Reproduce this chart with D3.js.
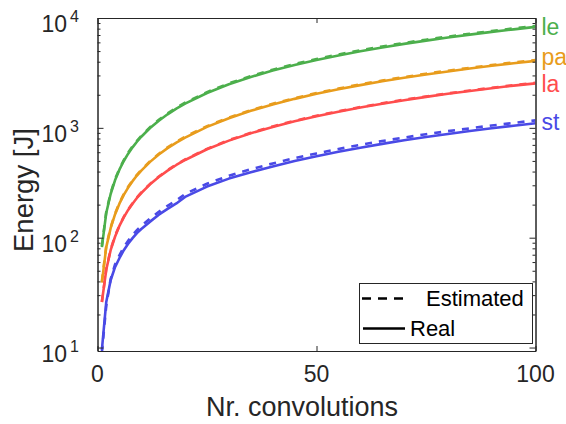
<!DOCTYPE html>
<html>
<head>
<meta charset="utf-8">
<script src="https://cdn.jsdelivr.net/npm/d3@7"></script>
<style>
  html, body { margin: 0; padding: 0; background: #fff; }
  svg { display: block; font-family: "Liberation Sans", Arial, Helvetica, sans-serif; }
</style>
</head>
<body>
<svg id="chart" width="566" height="424"></svg>
<script>
// Number of convolutions at which energy was sampled
const convolutions = [1,2,3,4,5,6,7,8,9,10,12,14,16,18,20,25,30,35,40,45,50,55,60,65,70,75,80,85,90,95,100];

// Energy [J] per network, measured (real) and predicted (estimated)
const leReal = [82,168,250,333,416,499,582,664,747,830,996,1162,1328,1494,1660,2075,2490,2905,3320,3735,4150,4565,4980,5395,5810,6225,6640,7055,7470,7885,8300];
const leEst  = [84,172,255,340,424,508,594,678,762,846,1015,1185,1355,1525,1692,2115,2540,2962,3385,3810,4232,4655,5078,5500,5925,6350,6770,7195,7620,8040,8460];
const paReal = [39,82,122,163,204,245,286,327,368,408,490,572,653,735,816,1020,1224,1428,1632,1836,2040,2244,2448,2652,2856,3060,3264,3468,3672,3876,4070];
const paEst  = [40,84,124,166,208,249,291,332,374,415,498,581,664,747,830,1036,1243,1450,1658,1865,2072,2280,2486,2695,2900,3108,3315,3522,3730,3938,4140];
const laReal = [26,51,77,102,128,153,179,204,230,255,306,357,408,459,510,638,765,893,1020,1148,1275,1403,1530,1658,1785,1913,2040,2168,2295,2423,2540];
const laEst  = [26,52,78,104,129,155,181,206,232,258,309,361,412,464,515,644,773,902,1030,1160,1288,1417,1545,1675,1803,1932,2060,2190,2318,2447,2570];
const stReal = [9.5,26,41,54,65,77,88,99,110,120,140,162,183,205,235,292,345,395,445,500,552,605,660,715,770,825,880,935,990,1045,1100];
const stEst  = [9,24,42,57,69,82,94,106,117,128,149,172,195,218,250,310,366,420,474,530,585,642,700,758,816,875,933,990,1050,1108,1170];

const seriesNames  = ["le", "pa", "la", "st"];
const seriesColors = ["#4caf4c", "#e89c1c", "#ff4d4d", "#4a4ae6"];
const realSeries = [leReal, paReal, laReal, stReal];
const estSeries  = [leEst, paEst, laEst, stEst];

const xTicks = [0, 50, 100];
const yDecades = [10, 100, 1000, 10000];
const yExponents = ["1", "2", "3", "4"];

const legendLabels = ["Estimated", "Real"];
const xTitle = "Nr. convolutions";
const yTitle = "Energy [J]";

const svg = d3.select("#chart");
const axisColor = "#262626";
const plot = { left: 97.5, right: 535.5, top: 18, bottom: 351 };

const x = d3.scaleLinear().domain([0, 100]).range([plot.left, plot.right]);
const y = d3.scaleLog().domain([9.3, 10000]).range([plot.bottom, plot.top]);

// Minor tick values on the log axis (2..9 within each decade)
const minorTicks = [];
[1, 10, 100, 1000].forEach(d => {
  for (let k = 2; k <= 9; k++) {
    const v = d * k;
    if (v >= 9.3 && v <= 10000) minorTicks.push(v);
  }
});

svg.append("rect").attr("width", 566).attr("height", 424).attr("fill", "#fff");

// Lines, clipped to the axes box
svg.append("clipPath").attr("id", "plotClip")
  .append("rect")
  .attr("x", plot.left).attr("y", plot.top)
  .attr("width", plot.right - plot.left).attr("height", plot.bottom - plot.top);

const line = d3.line().x((d, i) => x(convolutions[i])).y(d => y(d));
const lines = svg.append("g").attr("clip-path", "url(#plotClip)");
realSeries.forEach((s, i) => {
  lines.append("path").attr("d", line(s))
    .attr("fill", "none").attr("stroke", seriesColors[i])
    .attr("stroke-width", 2.6).attr("stroke-linejoin", "round");
  lines.append("path").attr("d", line(estSeries[i]))
    .attr("fill", "none").attr("stroke", seriesColors[i])
    .attr("stroke-width", 2.6).attr("stroke-dasharray", "7,7");
});

// Axes (ticks point inward, box on)
function styleAxis(g) {
  g.selectAll("path.domain").attr("stroke", axisColor).attr("stroke-width", 1);
  g.selectAll(".tick line").attr("stroke", axisColor).attr("stroke-width", 1);
  g.selectAll(".tick text").remove();
}

svg.append("g").attr("transform", `translate(0,${plot.bottom})`)
  .call(d3.axisBottom(x).tickValues(xTicks).tickSize(-5).tickSizeOuter(0)).call(styleAxis);
svg.append("g").attr("transform", `translate(0,${plot.top})`)
  .call(d3.axisTop(x).tickValues(xTicks).tickSize(-5).tickSizeOuter(0)).call(styleAxis);

svg.append("g").attr("transform", `translate(${plot.left},0)`)
  .call(d3.axisLeft(y).tickValues(yDecades).tickSize(-6).tickSizeOuter(0)).call(styleAxis);
svg.append("g").attr("transform", `translate(${plot.left},0)`)
  .call(d3.axisLeft(y).tickValues(minorTicks).tickSize(-3).tickSizeOuter(0)).call(styleAxis);
svg.append("g").attr("transform", `translate(${plot.right},0)`)
  .call(d3.axisRight(y).tickValues(yDecades).tickSize(-6).tickSizeOuter(0)).call(styleAxis);
svg.append("g").attr("transform", `translate(${plot.right},0)`)
  .call(d3.axisRight(y).tickValues(minorTicks).tickSize(-3).tickSizeOuter(0)).call(styleAxis);

// Tick labels
svg.append("g").selectAll("text").data(xTicks).join("text")
  .attr("x", d => x(d)).attr("y", plot.bottom + 31)
  .attr("text-anchor", "middle").attr("font-size", 23).attr("fill", axisColor)
  .text(d => d);

const yl = svg.append("g").selectAll("text").data(yDecades).join("text")
  .attr("x", 79).attr("y", d => y(d) + 14)
  .attr("text-anchor", "end").attr("font-size", 23).attr("fill", axisColor);
yl.append("tspan").text("10");
yl.append("tspan").attr("font-size", 16).attr("dx", 3).attr("dy", -10)
  .text((d, i) => yExponents[i]);

// Axis titles
svg.append("text").attr("x", 302).attr("y", 416)
  .attr("text-anchor", "middle").attr("font-size", 27).attr("fill", axisColor)
  .text(xTitle);
svg.append("text").attr("transform", "translate(33,252) rotate(-90)")
  .attr("text-anchor", "start").attr("font-size", 27.5).attr("fill", axisColor)
  .text(yTitle);

// Series names at the right edge, next to each line's last value
const endIdx = convolutions.length - 1;
const labelOffsets = [8, 4, 8.3, 7];
svg.append("g").selectAll("text").data(seriesNames).join("text")
  .attr("x", 541.5)
  .attr("y", (d, i) => y(realSeries[i][endIdx]) + labelOffsets[i])
  .attr("font-size", 23).attr("fill", (d, i) => seriesColors[i])
  .text(d => d);

// Legend
const lg = svg.append("g");
lg.append("rect").attr("x", 359.5).attr("y", 283.5).attr("width", 173).attr("height", 60)
  .attr("fill", "#fff").attr("stroke", axisColor).attr("stroke-width", 1);
lg.append("line").attr("x1", 362).attr("x2", 405).attr("y1", 298.5).attr("y2", 298.5)
  .attr("stroke", "#000").attr("stroke-width", 2.6).attr("stroke-dasharray", "9,7");
lg.append("line").attr("x1", 363).attr("x2", 405).attr("y1", 328.5).attr("y2", 328.5)
  .attr("stroke", "#000").attr("stroke-width", 2.6);
lg.append("text").attr("x", 426).attr("y", 306).attr("font-size", 22).attr("fill", "#000")
  .text(legendLabels[0]);
lg.append("text").attr("x", 410).attr("y", 336).attr("font-size", 22).attr("fill", "#000")
  .text(legendLabels[1]);
</script>
</body>
</html>
